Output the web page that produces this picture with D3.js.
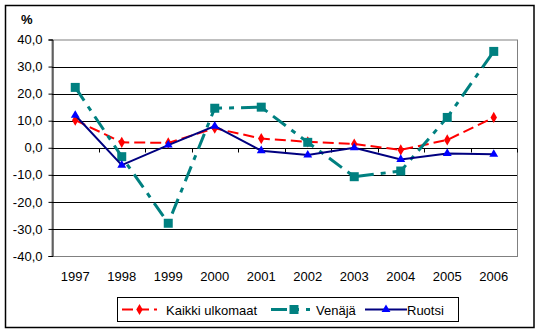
<!DOCTYPE html>
<html>
<head>
<meta charset="utf-8">
<script src="https://cdn.jsdelivr.net/npm/d3@7"></script>
<style>
  html, body { margin: 0; padding: 0; background: #fff; }
  svg { display: block; }
  text { font-family: Arial, "Liberation Sans", sans-serif; font-size: 13px; fill: #000; }
</style>
</head>
<body>
<svg id="chart" width="541" height="333"></svg>
<script>
// Vuodet ja sarjat (muutos-%)
const years = ["1997","1998","1999","2000","2001","2002","2003","2004","2005","2006"];
const kaikkiUlkomaat = [10.2, 2.0, 1.8, 7.2, 3.4, 2.2, 1.4, -0.8, 2.9, 11.2];
const venaja = [22.3, -3.3, -27.9, 14.6, 15.0, 2.0, -10.7, -8.6, 11.2, 35.6];
const ruotsi = [12.0, -6.4, 1.0, 8.0, -1.1, -2.7, 0.0, -4.3, -2.1, -2.4];
const yTicks = [-40, -30, -20, -10, 0, 10, 20, 30, 40];

const series = [
  { name: "Kaikki ulkomaat", values: kaikkiUlkomaat, color: "#ff0000", width: 2, dash: "11,5", marker: "diamond", markerColor: "#ff0000", size: 36 },
  { name: "Venäjä", values: venaja, color: "#008080", width: 3, dash: "16,7,5,7", marker: "square", markerColor: "#008080", size: 81 },
  { name: "Ruotsi", values: ruotsi, color: "#000080", width: 2, dash: null, marker: "triangle", markerColor: "#0000ff", size: 34 }
];

const svg = d3.select("#chart");
const plot = { left: 52, top: 39.5, right: 517, bottom: 256 };

// Kehys koko kuvion ympärillä
svg.append("rect")
  .attr("x", 5.5).attr("y", 5.5).attr("width", 528.5).attr("height", 322)
  .attr("fill", "#fff").attr("stroke", "#000").attr("stroke-width", 1.5);

const x = d3.scaleBand().domain(years).range([plot.left, plot.right]).padding(0);
const y = d3.scaleLinear().domain([-40, 40]).range([plot.bottom, plot.top]);

// Piirtoalueen harmaa reuna
svg.append("rect")
  .attr("x", plot.left).attr("y", plot.top + 0.5)
  .attr("width", plot.right - plot.left + 0.5).attr("height", plot.bottom - plot.top)
  .attr("fill", "none").attr("stroke", "#808080").attr("stroke-width", 1);

// Vaakasuorat apuviivat
svg.append("g").selectAll("line")
  .data(yTicks.filter(d => d > -40 && d < 40))
  .join("line")
  .attr("x1", plot.left).attr("x2", plot.right)
  .attr("y1", d => Math.round(y(d)) + 0.5).attr("y2", d => Math.round(y(d)) + 0.5)
  .attr("stroke", "#000").attr("stroke-width", 1);

// Y-akseli: desimaalipilkku ja tavallinen miinusmerkki
const fmt = d => d3.format(".1f")(d).replace(".", ",").replace("\u2212", "-");
const yAxis = svg.append("g")
  .attr("transform", `translate(${plot.left + 0.5},0)`)
  .call(d3.axisLeft(y).tickValues(yTicks).tickSize(4).tickPadding(6).tickFormat(fmt));
yAxis.select(".domain").attr("stroke", "#000");
yAxis.selectAll(".tick line").attr("stroke", "#000");
yAxis.selectAll("text")
  .style("font-family", "Arial, 'Liberation Sans', sans-serif")
  .style("font-size", "13px").attr("fill", "#000");

// X-akseli nollatasolla, väliviivat luokkien rajoilla
const x0 = Math.round(y(0)) + 0.5;
svg.append("line")
  .attr("x1", plot.left).attr("x2", plot.right)
  .attr("y1", x0).attr("y2", x0).attr("stroke", "#000");
svg.append("g").selectAll("line")
  .data(years.slice(1).concat(["end"]))
  .join("line")
  .attr("x1", (d, i) => Math.round(plot.left + x.step() * (i + 1)) + 0.5)
  .attr("x2", (d, i) => Math.round(plot.left + x.step() * (i + 1)) + 0.5)
  .attr("y1", x0).attr("y2", x0 + 4)
  .attr("stroke", "#000");

// Vuosiluvut
svg.append("g").selectAll("text")
  .data(years)
  .join("text")
  .attr("x", d => x(d) + x.bandwidth() / 2)
  .attr("y", 281)
  .attr("text-anchor", "middle")
  .text(d => d);

// Yksikkö
svg.append("text")
  .attr("x", 21).attr("y", 24)
  .style("font-weight", "bold").style("font-size", "13px")
  .text("%");

const cx = d => x(d) + x.bandwidth() / 2;
const symbolType = { diamond: d3.symbolDiamond, square: d3.symbolSquare, triangle: d3.symbolTriangle };

series.forEach(s => {
  const line = d3.line().x((d, i) => cx(years[i])).y(d => y(d));
  svg.append("path")
    .datum(s.values)
    .attr("d", line)
    .attr("fill", "none")
    .attr("stroke", s.color)
    .attr("stroke-width", s.width)
    .attr("stroke-dasharray", s.dash);
  svg.append("g").selectAll("path")
    .data(s.values)
    .join("path")
    .attr("transform", (d, i) => `translate(${cx(years[i])},${y(d)})`)
    .attr("d", d3.symbol().type(symbolType[s.marker]).size(s.size))
    .attr("fill", s.markerColor);
});

// Selite
const legend = svg.append("g");
legend.append("rect")
  .attr("x", 117.5).attr("y", 297.5).attr("width", 341).attr("height", 24)
  .attr("fill", "#fff").attr("stroke", "#000").attr("stroke-width", 1);

const legendItems = [
  { s: series[0], x1: 122, x2: 157, text: 166 },
  { s: series[1], x1: 271, x2: 310, text: 316 },
  { s: series[2], x1: 365, x2: 407, text: 407 }
];
legendItems.forEach(it => {
  const ly = 309.5;
  legend.append("line")
    .attr("x1", it.x1).attr("x2", it.x2).attr("y1", ly).attr("y2", ly)
    .attr("stroke", it.s.color).attr("stroke-width", it.s.width)
    .attr("stroke-dasharray", it.s.dash);
  legend.append("path")
    .attr("transform", `translate(${it.s.marker === "square" ? 294 : (it.x1 + it.x2) / 2},${ly})`)
    .attr("d", d3.symbol().type(symbolType[it.s.marker]).size(it.s.size))
    .attr("fill", it.s.markerColor);
  legend.append("text")
    .attr("x", it.text).attr("y", ly + 5)
    .text(it.s.name);
});
</script>
</body>
</html>
